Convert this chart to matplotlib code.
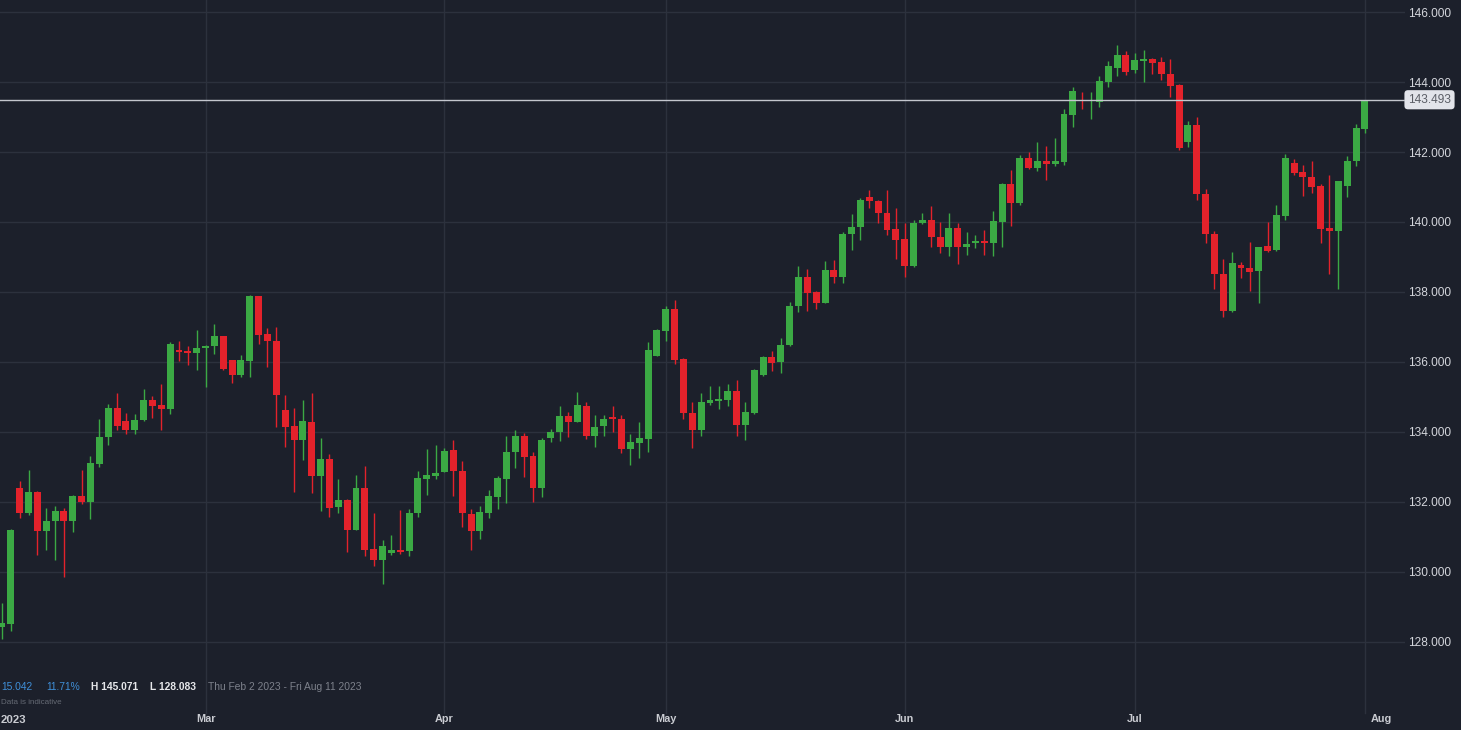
import numpy as np
import pandas as pd
import matplotlib
matplotlib.use("Agg")
from matplotlib import pyplot as plt
from matplotlib.transforms import ScaledTranslation

plt.rcParams['font.family'] = ['Liberation Sans', 'DejaVu Sans']

# daily candles, Feb 2 - Aug 1 2023 (no Saturdays, Sunday candles included)
dates = pd.date_range('2023-02-02', '2023-08-01', freq='D')
dates = dates[dates.dayofweek != 5]

opens = [128.43, 128.52, 132.40, 131.70, 132.30, 131.16, 131.45, 131.75, 131.45, 132.18,
         131.99, 133.10, 133.85, 134.70, 134.31, 134.07, 134.33, 134.92, 134.78, 134.67,
         136.35, 136.32, 136.25, 136.39, 136.45, 136.73, 136.05, 135.64, 136.04, 137.88,
         136.81, 136.61, 134.64, 134.16, 133.78, 134.30, 132.73, 133.24, 131.85, 132.07,
         131.21, 132.40, 130.66, 130.35, 130.55, 130.64, 130.59, 131.70, 132.67, 132.75,
         132.86, 133.50, 132.89, 131.65, 131.17, 131.68, 132.14, 132.67, 133.42, 133.88,
         133.30, 132.40, 133.84, 134.00, 134.47, 134.30, 134.75, 133.88, 134.16, 134.42,
         134.37, 133.52, 133.70, 133.81, 136.18, 136.88, 137.51, 136.10, 134.54, 134.05,
         134.82, 134.88, 134.92, 135.18, 134.19, 134.54, 135.62, 136.14, 135.99, 136.48,
         137.59, 138.43, 138.00, 137.70, 138.64, 138.42, 139.66, 139.85, 140.71, 140.59,
         140.26, 139.80, 139.51, 138.73, 139.97, 140.07, 139.58, 139.30, 139.83, 139.29,
         139.39, 139.47, 139.39, 140.00, 141.10, 140.53, 141.84, 141.53, 141.74, 141.65,
         141.71, 143.07, 143.50, 143.45, 143.42, 143.99, 144.41, 144.78, 144.33, 144.61,
         144.67, 144.56, 144.24, 143.92, 142.28, 142.77, 140.81, 139.67, 138.51, 137.45,
         138.78, 138.70, 138.59, 139.30, 139.19, 140.18, 141.70, 141.44, 141.30, 141.02,
         139.83, 139.73, 141.02, 141.73, 142.67]
highs = [129.12, 131.22, 132.61, 132.92, 132.32, 131.83, 131.89, 131.83, 132.20, 132.92,
         133.32, 134.37, 134.80, 135.11, 134.54, 134.51, 135.24, 135.02, 135.37, 136.56,
         136.59, 136.47, 136.92, 136.49, 137.10, 136.75, 136.06, 136.21, 137.92, 137.90,
         136.97, 137.00, 135.07, 134.69, 134.92, 135.11, 133.83, 133.38, 132.67, 132.10,
         132.78, 133.02, 131.69, 130.92, 131.07, 131.78, 131.80, 132.90, 133.52, 133.62,
         133.54, 133.78, 133.18, 131.79, 131.90, 132.33, 132.73, 133.90, 134.07, 133.97,
         133.42, 133.84, 134.10, 134.73, 134.56, 135.15, 134.87, 134.50, 134.50, 134.75,
         134.50, 133.95, 134.29, 136.56, 136.94, 137.59, 137.76, 136.12, 134.87, 135.11,
         135.32, 135.32, 135.38, 135.50, 134.87, 135.80, 136.16, 136.32, 136.69, 137.71,
         138.73, 138.67, 138.04, 138.90, 138.92, 139.71, 140.23, 140.70, 140.92, 140.64,
         140.92, 140.40, 139.97, 140.05, 140.26, 140.47, 140.00, 140.26, 139.97, 139.72,
         139.64, 139.78, 140.32, 141.12, 141.50, 141.91, 141.99, 142.28, 142.16, 142.39,
         143.23, 143.86, 143.72, 143.72, 144.16, 144.59, 145.07, 144.88, 144.83, 144.92,
         144.69, 144.71, 144.67, 143.94, 142.90, 143.00, 140.94, 139.73, 138.94, 139.14,
         138.86, 139.42, 139.30, 140.00, 140.49, 141.94, 141.80, 141.64, 141.75, 141.10,
         141.33, 141.18, 141.90, 142.80, 143.493]
lows = [128.08, 128.31, 131.54, 131.62, 130.50, 130.62, 130.35, 129.85, 131.13, 131.94,
        131.52, 133.00, 133.62, 134.07, 133.95, 133.94, 134.32, 134.39, 134.07, 134.52,
        136.02, 135.92, 135.76, 135.28, 136.24, 135.76, 135.39, 135.56, 135.56, 136.51,
        135.86, 134.14, 133.56, 132.30, 133.21, 132.26, 131.73, 131.57, 131.70, 130.56,
        131.20, 130.45, 130.18, 129.67, 130.50, 130.52, 130.45, 131.57, 132.21, 132.66,
        132.85, 132.17, 131.30, 130.62, 130.95, 131.53, 131.81, 131.98, 132.96, 132.72,
        132.00, 132.15, 133.71, 133.75, 133.87, 134.28, 133.81, 133.57, 133.90, 133.99,
        133.40, 133.05, 133.26, 133.42, 136.16, 136.59, 135.94, 134.37, 133.54, 133.90,
        134.77, 134.67, 134.73, 133.90, 133.76, 134.52, 135.60, 135.73, 135.70, 136.46,
        137.42, 137.45, 137.51, 137.68, 138.26, 138.26, 139.19, 139.50, 140.40, 139.97,
        139.64, 138.95, 138.43, 138.71, 139.95, 139.29, 139.11, 139.04, 138.80, 139.06,
        139.26, 139.06, 139.02, 139.30, 139.88, 140.48, 141.51, 141.45, 141.21, 141.61,
        141.62, 142.71, 143.24, 142.95, 143.30, 143.86, 144.16, 144.21, 144.26, 144.00,
        144.23, 144.07, 143.56, 142.07, 142.14, 140.62, 139.40, 138.09, 137.29, 137.43,
        138.40, 138.02, 137.70, 139.14, 139.17, 140.05, 141.35, 140.75, 140.83, 139.40,
        138.52, 138.09, 140.71, 141.59, 142.54]
closes = [128.55, 131.20, 131.70, 132.30, 131.16, 131.47, 131.75, 131.45, 132.18, 131.99,
          133.12, 133.86, 134.69, 134.16, 134.07, 134.35, 134.92, 134.75, 134.67, 136.52,
          136.30, 136.25, 136.41, 136.47, 136.73, 135.81, 135.64, 136.07, 137.88, 136.78,
          136.59, 135.07, 134.13, 133.78, 134.30, 132.73, 133.24, 131.83, 132.07, 131.21,
          132.40, 130.64, 130.35, 130.75, 130.64, 130.58, 131.69, 132.70, 132.78, 132.83,
          133.47, 132.88, 131.70, 131.17, 131.71, 132.17, 132.70, 133.44, 133.88, 133.28,
          132.40, 133.78, 134.00, 134.47, 134.30, 134.77, 133.88, 134.15, 134.37, 134.36,
          133.52, 133.71, 133.83, 136.35, 136.90, 137.51, 136.07, 134.54, 134.05, 134.87,
          134.90, 134.95, 135.18, 134.19, 134.58, 135.78, 136.14, 135.97, 136.49, 137.61,
          138.43, 137.96, 137.70, 138.64, 138.43, 139.67, 139.86, 140.64, 140.59, 140.26,
          139.78, 139.50, 138.73, 139.97, 140.07, 139.57, 139.30, 139.83, 139.28, 139.37,
          139.47, 139.39, 140.04, 141.10, 140.53, 141.84, 141.53, 141.75, 141.65, 141.74,
          143.10, 143.75, 143.45, 143.49, 144.02, 144.45, 144.78, 144.30, 144.64, 144.66,
          144.54, 144.23, 143.90, 142.11, 142.77, 140.79, 139.66, 138.51, 137.45, 138.83,
          138.68, 138.58, 139.30, 139.18, 140.20, 141.84, 141.40, 141.28, 140.99, 139.81,
          139.73, 141.16, 141.74, 142.69, 143.493]

last_price = 143.493
price_ticks = [128, 130, 132, 134, 136, 138, 140, 142, 144, 146]
info_change = "15.042"
info_pct = "11.71%"
info_high = "H 145.071"
info_low = "L 128.083"
info_range = "Thu Feb 2 2023 - Fri Aug 11 2023"

bg = '#1c202b'
grid_c = '#2c313d'
up_c = '#3ba944'
down_c = '#e3222b'

W, H = 1461, 730
fig = plt.figure(figsize=(W / 100, H / 100), dpi=100, facecolor=bg)
ax_w = 1405
ax = fig.add_axes([0, 0, ax_w / W, 1])
ax.set_facecolor(bg)

x = np.arange(len(dates))
o = np.array(opens)
c = np.array(closes)
hi = np.array(highs)
lo = np.array(lows)
cols = np.where(c >= o, up_c, down_c)

ax.vlines(x, lo, hi, color=cols, linewidth=1, zorder=3)
body = np.maximum(np.abs(c - o), 0.035)
ax.bar(x, body, bottom=np.minimum(o, c), width=0.78, color=cols, linewidth=0, zorder=4)

# pixel scale: 8.85 px per candle, 35 px per yen
step = 8.85
ax.set_xlim(-2 / step, (ax_w - 2) / step)
ax.set_ylim(146 - (H - 12) / 35, 146 + 12 / 35)

# grid
ax.set_yticks(price_ticks)
ax.set_yticklabels([f"{v:.3f}" for v in price_ticks])
for v in price_ticks:
    ax.axhline(v, color=grid_c, linewidth=1, zorder=1)

month_idx = [i for i in range(1, len(dates)) if dates[i].month != dates[i - 1].month]
for i in month_idx:
    ax.axvline(i, ymin=17 / H, color=grid_c, linewidth=1, zorder=1)
ax.set_xticks(month_idx)
ax.set_xticklabels([dates[i].strftime('%b') for i in month_idx])

ax.tick_params(axis='y', length=0, labelleft=False, labelright=True, pad=2,
               labelsize=8.6, labelcolor='#d3d5db')
ax.tick_params(axis='x', length=0, pad=-11.5, labelsize=7.8, labelcolor='#c9cbd1')
for lab in ax.get_xticklabels():
    lab.set_fontweight('bold')
ax.get_xticklabels()[-1].set_transform(
    ax.get_xticklabels()[-1].get_transform() + ScaledTranslation(0.16, 0, fig.dpi_scale_trans))
for s in ax.spines.values():
    s.set_visible(False)

# last price line and tag
ax.axhline(last_price, color='#c4c7ce', linewidth=1, zorder=5)
ax.annotate(f"{last_price:.3f}", xy=(1, last_price), xycoords=ax.get_yaxis_transform(),
            xytext=(3, 0), textcoords='offset pixels', ha='left', va='center',
            fontsize=8.6, color='#5b5e66', annotation_clip=False,
            bbox=dict(boxstyle='round,pad=0.3,rounding_size=0.3', fc='#e2e4ea', ec='none'))

# info row
def px(xp, yp):
    return xp / W, 1 - yp / H

fig.text(*px(1, 687), info_change, color='#3f8fd8', fontsize=7.4, va='center')
fig.text(*px(46, 687), info_pct, color='#3f8fd8', fontsize=7.4, va='center')
fig.text(*px(91, 687), info_high, color='#e6e7ea', fontsize=7.4, fontweight='bold', va='center')
fig.text(*px(150, 687), info_low, color='#e6e7ea', fontsize=7.4, fontweight='bold', va='center')
fig.text(*px(208, 687), info_range, color='#7d818b', fontsize=7.4, va='center')
fig.text(*px(1, 703), "Data is indicative", color='#656a74', fontsize=5.8, va='center')
fig.text(*px(1, 720), "2023", color='#c9cbd1', fontsize=8.2, fontweight='bold', va='center')

fig.savefig('out.png', dpi=100, facecolor=bg)
